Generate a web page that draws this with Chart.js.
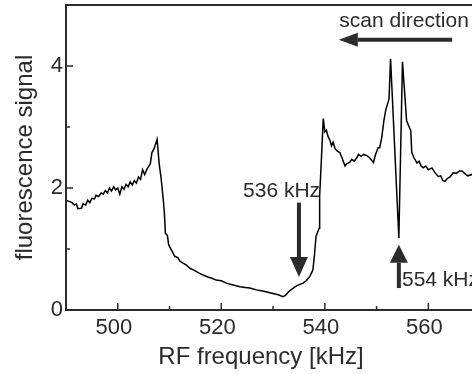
<!DOCTYPE html>
<html>
<head>
<meta charset="utf-8">
<script src="https://cdn.jsdelivr.net/npm/chart.js@4.4.1/dist/chart.umd.min.js"></script>
<style>
  html, body { margin: 0; padding: 0; background: #fff; overflow: hidden; }
  #wrap { width: 472px; height: 374px; overflow: hidden; position: relative; }
  #c { position: absolute; left: 0; top: 0; }
</style>
</head>
<body>
<div id="wrap"><canvas id="c" width="520" height="374"></canvas></div>
<script>
// RF frequency (kHz) and fluorescence signal
var freq = [
  490.0, 490.6, 491.2, 491.6, 492.0, 492.3, 493.0, 493.3, 493.8, 494.2,
  494.6, 495.0, 495.5, 495.8, 496.3, 496.8, 497.2, 497.6, 498.0, 498.4,
  498.8, 499.2, 499.6, 500.0, 500.4, 500.8, 501.2, 501.6, 502.0, 502.4,
  502.8, 503.2, 503.6, 504.0, 504.4, 504.8, 505.2, 505.6, 506.0, 506.3,
  506.6, 507.0, 507.6, 508.0, 508.4, 508.8, 509.0, 509.2, 509.6, 509.8,
  510.0, 510.6, 511.0, 511.6, 512.0, 512.6, 513.2, 514.0, 514.8, 515.8,
  516.6, 517.4, 518.2, 519.0, 520.0, 521.0, 522.3, 523.6, 524.6, 525.5,
  526.8, 528.0, 529.0, 530.0, 531.0, 531.9, 532.4, 533.0, 533.9, 534.6,
  535.2, 535.8, 536.4, 537.1, 537.5, 537.7, 538.0, 538.3, 538.9, 539.0,
  539.3, 539.7, 540.0, 540.3, 540.6, 541.0, 541.3, 541.6, 542.0, 542.5,
  542.9, 543.3, 543.9, 544.3, 544.8, 545.2, 545.7, 546.2, 546.5, 547.0,
  547.5, 548.1, 548.6, 549.0, 549.4, 549.8, 550.3, 550.6, 551.0, 551.4,
  551.8, 552.2, 552.4, 552.7, 554.3, 555.0, 555.8, 556.6, 556.8, 557.2,
  557.8, 558.2, 558.6, 559.0, 559.5, 560.0, 560.7, 561.2, 561.9, 562.4,
  562.8, 563.2, 563.7, 564.2, 564.8, 565.4, 566.0, 566.5, 567.0, 567.6,
  568.4, 569.0, 570.0, 571.0, 572.0, 573.0, 574.0, 575.0
];
var signal = [
  1.80, 1.78, 1.76, 1.72, 1.74, 1.66, 1.67, 1.74, 1.72, 1.80,
  1.76, 1.83, 1.82, 1.88, 1.86, 1.92, 1.90, 1.96, 1.92, 2.00,
  1.95, 2.02, 1.97, 2.00, 1.90, 2.02, 1.98, 2.06, 2.02, 2.10,
  2.05, 2.12, 2.08, 2.18, 2.14, 2.30, 2.22, 2.30, 2.36, 2.40,
  2.58, 2.64, 2.80, 2.40, 2.14, 1.80, 1.60, 1.26, 1.22, 1.08,
  1.04, 0.95, 0.88, 0.86, 0.80, 0.77, 0.74, 0.68, 0.65, 0.60,
  0.57, 0.54, 0.52, 0.49, 0.48, 0.44, 0.41, 0.38, 0.37, 0.36,
  0.33, 0.31, 0.29, 0.27, 0.25, 0.22, 0.24, 0.30, 0.36, 0.40,
  0.42, 0.44, 0.48, 0.55, 0.62, 0.66, 0.90, 1.21, 1.34, 1.87,
  2.40, 3.14, 2.92, 2.95, 2.85, 2.78, 2.69, 2.75, 2.64, 2.60,
  2.58, 2.50, 2.36, 2.40, 2.42, 2.47, 2.44, 2.50, 2.55, 2.52,
  2.55, 2.53, 2.50, 2.46, 2.42, 2.55, 2.66, 2.66, 2.83, 3.10,
  3.29, 3.40, 3.46, 4.12, 1.18, 4.07, 3.10, 2.94, 2.58, 2.50,
  2.41, 2.44, 2.36, 2.33, 2.36, 2.30, 2.33, 2.26, 2.19, 2.20,
  2.12, 2.11, 2.16, 2.18, 2.25, 2.24, 2.28, 2.28, 2.24, 2.20,
  2.22, 2.26, 2.24, 2.28, 2.22, 2.26, 2.24, 2.25
];

var xTicks = [500, 520, 540, 560];
var xMinor = [510, 530, 550, 570];
var yTicks = [0, 2, 4];
var yMinor = [1, 3];

var points = [];
for (var i = 0; i < freq.length; i++) {
  points.push({ x: freq[i], y: signal[i] });
}

var FONT = "'Liberation Sans', Arial, sans-serif";
var INK = '#2b2b2b';

function arrow(ctx, x1, y1, x2, y2, headLen, headHalf) {
  var dx = x2 - x1, dy = y2 - y1;
  var len = Math.sqrt(dx * dx + dy * dy);
  var ux = dx / len, uy = dy / len;
  var bx = x2 - ux * headLen, by = y2 - uy * headLen;
  ctx.beginPath();
  ctx.moveTo(x1, y1);
  ctx.lineTo(bx, by);
  ctx.stroke();
  ctx.beginPath();
  ctx.moveTo(x2, y2);
  ctx.lineTo(bx - uy * headHalf, by + ux * headHalf);
  ctx.lineTo(bx + uy * headHalf, by - ux * headHalf);
  ctx.closePath();
  ctx.fill();
}

var decorations = {
  id: 'decorations',
  afterDraw: function(chart) {
    var ctx = chart.ctx;
    var a = chart.chartArea;
    var xs = chart.scales.x, ys = chart.scales.y;
    ctx.save();

    // frame
    ctx.strokeStyle = INK;
    ctx.lineWidth = 2;
    ctx.strokeRect(a.left, a.top, a.right - a.left, a.bottom - a.top);

    // inward ticks
    ctx.lineWidth = 1.5;
    ctx.beginPath();
    xTicks.forEach(function(v) {
      var px = xs.getPixelForValue(v);
      ctx.moveTo(px, a.bottom); ctx.lineTo(px, a.bottom - 7);
    });
    xMinor.forEach(function(v) {
      var px = xs.getPixelForValue(v);
      ctx.moveTo(px, a.bottom); ctx.lineTo(px, a.bottom - 4);
    });
    yTicks.forEach(function(v) {
      var py = ys.getPixelForValue(v);
      ctx.moveTo(a.left, py); ctx.lineTo(a.left + 7, py);
    });
    yMinor.forEach(function(v) {
      var py = ys.getPixelForValue(v);
      ctx.moveTo(a.left, py); ctx.lineTo(a.left + 4, py);
    });
    ctx.stroke();

    // annotations
    ctx.fillStyle = INK;
    ctx.strokeStyle = INK;
    ctx.lineWidth = 4;
    arrow(ctx, xs.getPixelForValue(535.0), ys.getPixelForValue(1.76),
               xs.getPixelForValue(535.0), ys.getPixelForValue(0.54), 20, 9);
    arrow(ctx, xs.getPixelForValue(554.3), ys.getPixelForValue(0.36),
               xs.getPixelForValue(554.3), ys.getPixelForValue(1.07), 18, 9);
    arrow(ctx, xs.getPixelForValue(564.6), ys.getPixelForValue(4.43),
               xs.getPixelForValue(542.7), ys.getPixelForValue(4.43), 19, 7);

    ctx.font = '21px ' + FONT;
    ctx.textAlign = 'left';
    ctx.textBaseline = 'middle';
    ctx.fillText('scan direction', xs.getPixelForValue(542.8), ys.getPixelForValue(4.74));
    ctx.fillText('536 kHz', xs.getPixelForValue(524.2), ys.getPixelForValue(1.94));
    ctx.fillText('554 kHz', xs.getPixelForValue(554.9), ys.getPixelForValue(0.49));

    // x axis title
    ctx.font = '24px ' + FONT;
    ctx.textAlign = 'center';
    ctx.fillText('RF frequency [kHz]', 261, 357);
    ctx.restore();
  }
};

new Chart(document.getElementById('c'), {
  type: 'line',
  data: {
    datasets: [{
      data: points,
      borderColor: '#000',
      borderWidth: 1.5,
      pointRadius: 0,
      tension: 0,
      fill: false
    }]
  },
  options: {
    responsive: false,
    animation: false,
    devicePixelRatio: 1,
    layout: { padding: { top: 5, right: 14, left: 0, bottom: 0 } },
    plugins: { legend: { display: false }, tooltip: { enabled: false } },
    scales: {
      x: {
        type: 'linear',
        min: 490,
        max: 575,
        grid: { display: false, drawTicks: false },
        border: { display: false },
        afterBuildTicks: function(s) { s.ticks = xTicks.map(function(v) { return { value: v }; }); },
        afterFit: function(s) {
          s.height = 64;
          s.paddingLeft = 0; s.paddingRight = 0;
        },
        ticks: {
          autoSkip: false,
          maxRotation: 0,
          padding: 5,
          labelOffset: -4,
          color: INK,
          font: { family: FONT, size: 22 }
        }
      },
      y: {
        type: 'linear',
        min: 0,
        max: 5,
        grid: { display: false, drawTicks: false },
        border: { display: false },
        afterBuildTicks: function(s) { s.ticks = yTicks.map(function(v) { return { value: v }; }); },
        afterFit: function(s) {
          s.width = 66;
          s.paddingTop = 0; s.paddingBottom = 0;
        },
        ticks: {
          padding: 3,
          color: INK,
          font: { family: FONT, size: 22 }
        },
        title: {
          display: true,
          text: 'fluorescence signal',
          color: INK,
          padding: { top: 11, bottom: 0 },
          font: { family: FONT, size: 24 }
        }
      }
    }
  },
  plugins: [decorations]
});
</script>
</body>
</html>
